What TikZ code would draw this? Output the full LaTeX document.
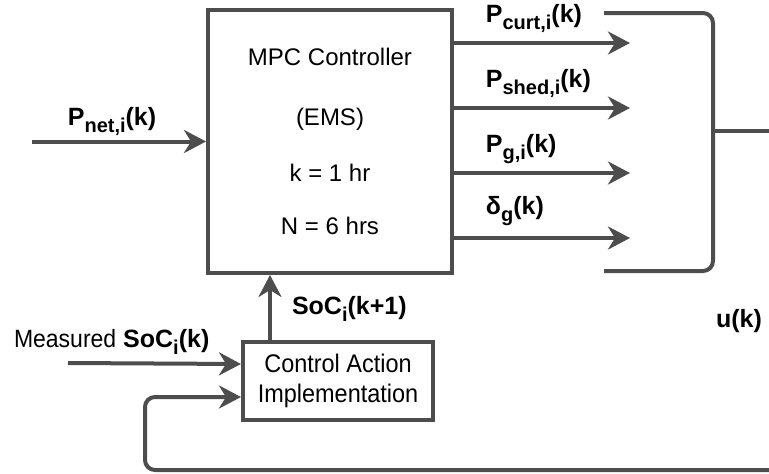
\documentclass[tikz,border=0pt]{standalone}
\usepackage{fontspec}
\setmainfont{Liberation Sans}
\usepackage{graphicx}
\usepackage{tikz}
\usetikzlibrary{arrows.meta}
\usetikzlibrary{positioning}

\definecolor{linegray}{RGB}{77,77,77}
\newcommand{\lsub}[1]{\raisebox{-7pt}{\fontsize{20}{20}\selectfont #1}}
\newcommand{\narrow}[1]{\scalebox{0.92}[1]{#1}}

\begin{document}
\begin{tikzpicture}[->,>={Stealth[length=22pt,width=23pt,inset=7pt]},x=1pt,y=1pt,
                    line width=4pt, every edge/.style={draw=linegray}]
  \tikzstyle{block}=[draw=linegray,fill=white,align=center,inner sep=0pt]
  \tikzstyle{lbl}=[inner sep=0pt,font=\fontsize{25}{30}\selectfont\bfseries]
  \tikzstyle{outlbl}=[lbl,pos=0.17,anchor=base west]
  \tikzstyle{wire}=[draw=linegray,rounded corners=10pt]

  \useasboundingbox (0,0) rectangle (769,-474);

  \node[block,minimum width=244pt,minimum height=263pt,
        font=\fontsize{24}{56}\selectfont] (mpc) at (330,-141.5)
        {MPC Controller\\[4pt] (EMS)\\ k = 1 hr\\[-3pt] N = 6 hrs};
  \node[block,minimum width=190pt,minimum height=78pt,
        font=\fontsize{25.5}{30}\selectfont] (impl) [below=65pt of mpc.south, xshift=8pt]
        {\narrow{Control Action}\\\narrow{Implementation}};

  \node[anchor=base west,inner sep=0pt,font=\fontsize{25}{30}\selectfont] (meas) at (12,-347)
        {\narrow{Measured} \textbf{SoC\lsub{i}(k)}};
  \node[lbl,anchor=base] (uk) at (739,-327) {u(k)};

  \coordinate (pn) at (32,-141.5);
  \coordinate (ms) at (68,-363);
  \coordinate (c1) at (630,-43);
  \coordinate (c2) at (630,-108);
  \coordinate (c3) at (630,-173);
  \coordinate (c4) at (630,-238);
  \coordinate (bt) at (604,-13);
  \coordinate (bb) at (604,-271);
  \coordinate (bm) at (713,-131);
  \coordinate (uo) at (769,-131);
  \coordinate (fbr) at (769,-470);
  \coordinate (fbc) at (145,-470);

  \path (pn) edge node[lbl,pos=0.46,anchor=base,yshift=16.5pt] {P\lsub{net,i}(k)} (mpc)
        (mpc.east |- c1) edge node[outlbl,yshift=21pt] {P\lsub{curt,i}(k)} (c1)
        (mpc.east |- c2) edge node[outlbl,yshift=21pt] {P\lsub{shed,i}(k)} (c2)
        (mpc.east |- c3) edge node[outlbl,yshift=21pt] {P\lsub{g,i}(k)} (c3)
        (mpc.east |- c4) edge node[outlbl,yshift=24pt] {δ\lsub{g}(k)} (c4)
        ([xshift=-68pt]impl.north) edge node[lbl,pos=0.4,anchor=base west,xshift=20pt]
            {SoC\lsub{i}(k+1)} ([xshift=-60pt]mpc.south)
        (ms) edge ([yshift=17pt]impl.west);

  % output bracket and feedback
  \draw[wire,-] (bt) -- (bt -| bm) -- (bb -| bm) -- (bb);
  \draw[wire,-] (bm) -- (uo);
  \draw[wire] (fbr) -- (fbc) |- ([yshift=-16pt]impl.west);
\end{tikzpicture}
\end{document}
